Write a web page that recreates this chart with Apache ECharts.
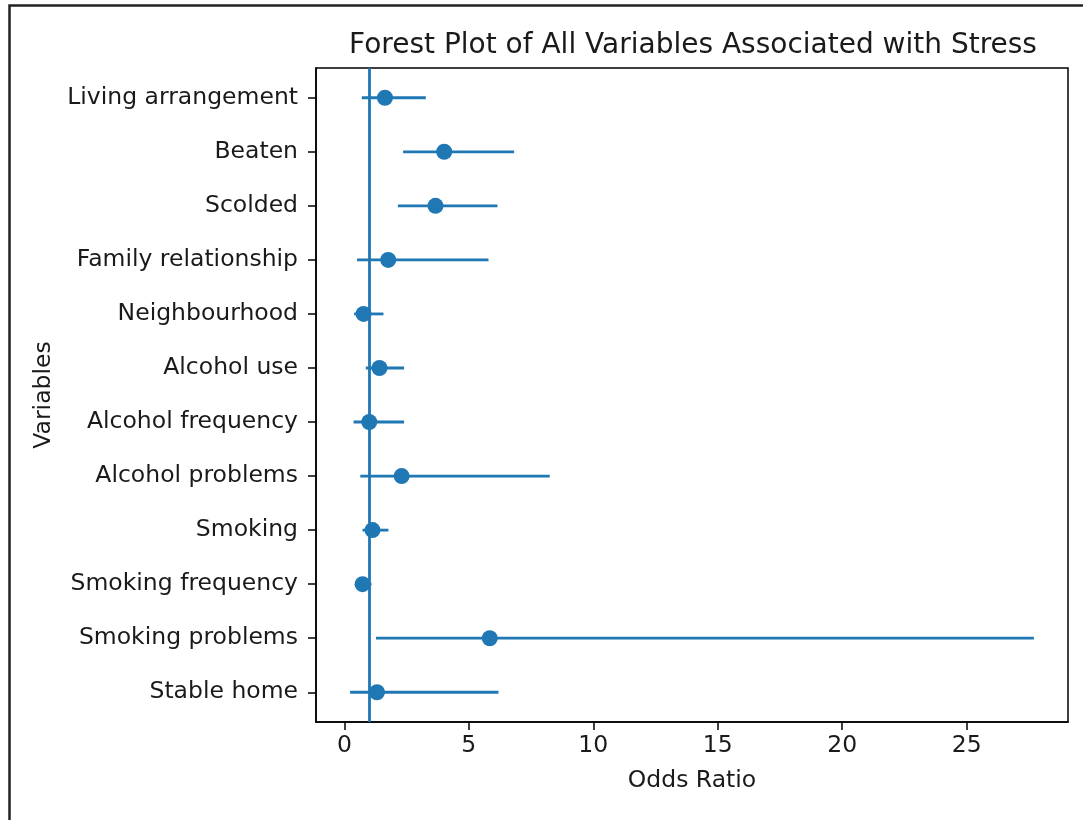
<!DOCTYPE html>
<html><head><meta charset="utf-8">
<script src="https://cdn.jsdelivr.net/npm/echarts@6/dist/echarts.min.js"></script>
<style>html,body{margin:0;padding:0;background:#fff}#c{width:1083px;height:820px}</style>
</head><body><div id="c"></div>
<script>
const variables = ['Living arrangement','Beaten','Scolded','Family relationship','Neighbourhood','Alcohol use','Alcohol frequency','Alcohol problems','Smoking','Smoking frequency','Smoking problems','Stable home'];
const oddsRatio = [1.63, 4.01, 3.66, 1.76, 0.77, 1.41, 1.00, 2.30, 1.13, 0.73, 5.84, 1.31];
const ciLower   = [0.70, 2.36, 2.15, 0.51, 0.39, 0.86, 0.37, 0.64, 0.73, 0.46, 1.27, 0.23];
const ciUpper   = [3.27, 6.82, 6.15, 5.79, 1.57, 2.40, 2.40, 8.25, 1.77, 1.09, 27.70, 6.19];
const xTicks = [0, 5, 10, 15, 20, 25];
const refLine = 1;

const FONT = 'DejaVu Sans';
const BLUE = '#1f77b4';
const TXT = '#1a1a1a';
const rowIdx = variables.map((_, i) => i);

const chart = echarts.init(document.getElementById('c'), null, {renderer: 'canvas'});
chart.setOption({
  backgroundColor: '#fff',
  animation: false,
  title: {
    text: 'Forest Plot of All Variables Associated with Stress',
    left: 688, top: 27, textAlign: 'center',
    textStyle: {fontFamily: FONT, fontSize: 28, fontWeight: 'normal', color: TXT}
  },
  graphic: [{
    type: 'rect', left: 7, top: 3, shape: {width: 1120, height: 860},
    style: {fill: 'none', stroke: '#222', lineWidth: 2.5}, silent: true
  }],
  grid: {left: 316, right: 15, top: 68, bottom: 98, show: true, borderColor: '#000', borderWidth: 1.5, backgroundColor: 'transparent'},
  xAxis: {
    type: 'value', min: -1.14, max: 29.07,
    name: 'Odds Ratio', nameLocation: 'middle', nameGap: 47,
    nameTextStyle: {fontFamily: FONT, fontSize: 23.5, color: TXT},
    axisLine: {show: true, onZero: false, lineStyle: {color: '#000', width: 1.5}},
    axisTick: {show: true, customValues: xTicks, length: 8, lineStyle: {color: '#000', width: 1.5}},
    axisLabel: {customValues: xTicks, margin: 12, fontFamily: FONT, fontSize: 23.5, color: TXT},
    splitLine: {show: false}
  },
  yAxis: {
    type: 'value', inverse: true, min: -0.55, max: variables.length - 1 + 0.55,
    name: 'Variables', nameLocation: 'middle', nameGap: 260, nameRotate: 90,
    nameTextStyle: {fontFamily: FONT, fontSize: 23.5, color: TXT},
    axisLine: {show: true, onZero: false, lineStyle: {color: '#000', width: 1.5}},
    axisTick: {show: true, customValues: rowIdx, length: 8, lineStyle: {color: '#000', width: 1.5}},
    axisLabel: {customValues: rowIdx, margin: 18, fontFamily: FONT, fontSize: 23.5, color: TXT,
      formatter: v => variables[Math.round(v)]},
    splitLine: {show: false}
  },
  series: [
    {
      type: 'custom', z: 2,
      data: rowIdx.map(i => [ciLower[i], ciUpper[i], i]),
      encode: {x: [0, 1], y: 2},
      renderItem: (params, api) => {
        const a = api.coord([api.value(0), api.value(2)]);
        const b = api.coord([api.value(1), api.value(2)]);
        return {type: 'line', shape: {x1: a[0], y1: a[1], x2: b[0], y2: b[1]},
          style: {stroke: BLUE, lineWidth: 2.8}};
      }
    },
    {
      type: 'scatter', z: 3,
      data: rowIdx.map(i => [oddsRatio[i], i]),
      symbol: 'circle', symbolSize: 16,
      itemStyle: {color: BLUE, opacity: 1}
    },
    {
      type: 'scatter', z: 4, data: [],
      markLine: {
        silent: true, symbol: 'none', animation: false,
        label: {show: false},
        lineStyle: {color: BLUE, width: 2.8, type: 'solid', opacity: 1},
        data: [{xAxis: refLine}]
      }
    }
  ]
});
</script></body></html>
